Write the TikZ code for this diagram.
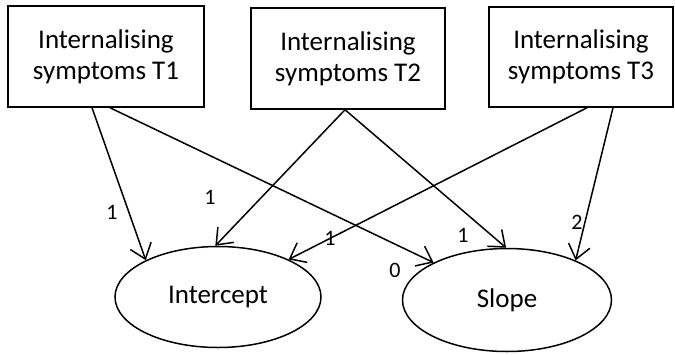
\documentclass[tikz,border=0pt]{standalone}
\usepackage{fontspec}
\setmainfont{Carlito}
\usetikzlibrary{arrows.meta,shapes.geometric}
\begin{document}
\begin{tikzpicture}[x=1pt,y=-1pt,
  obsbox/.style={draw,line width=1.5pt,rectangle,inner sep=0pt,align=center,
    font=\fontsize{27}{31}\selectfont},
  latent/.style={draw,line width=1.5pt,ellipse,inner sep=0pt,
    font=\fontsize{27}{31}\selectfont},
  path/.style={line width=1.5pt,-{Straight Barb[length=14pt,width=22pt,line width=1.5pt]}},
  lbl/.style={font=\fontsize{22}{26}\selectfont,inner sep=0pt}]
\useasboundingbox (0,0) rectangle (675,354);
\node[obsbox,minimum width=196pt,minimum height=101pt] (t1) at (106,56.5) {Internalising\\symptoms T1};
\node[obsbox,minimum width=194pt,minimum height=101pt] (t2) at (348,58.5) {Internalising\\symptoms T2};
\node[obsbox,minimum width=184pt,minimum height=100pt] (t3) at (581,57) {Internalising\\symptoms T3};
\node[latent,minimum width=206pt,minimum height=101pt] (int) at (218,297) {Intercept};
\node[latent,minimum width=209pt,minimum height=103pt] (slo) at (507,300) {Slope};
\draw[path] ([xshift=-14pt]t1.south) -- (int.153);
\draw[path] ([xshift=4pt]t1.south) -- (slo.153);
\draw[path] ([xshift=-3pt]t2.south) -- (int.93);
\draw[path] ([xshift=-3pt]t2.south) -- (slo.91);
\draw[path] ([xshift=6pt]t3.south) -- (int.28);
\draw[path] ([xshift=32pt]t3.south) -- (slo.30);
\node[lbl] (l1) at (112,212) {1};
\node[lbl] (l2) at (395,270) {0};
\node[lbl] (l3) at (210,197) {1};
\node[lbl] (l4) at (463,235) {1};
\node[lbl] (l5) at (330,238) {1};
\node[lbl] (l6) at (577,222) {2};
\end{tikzpicture}
\end{document}
